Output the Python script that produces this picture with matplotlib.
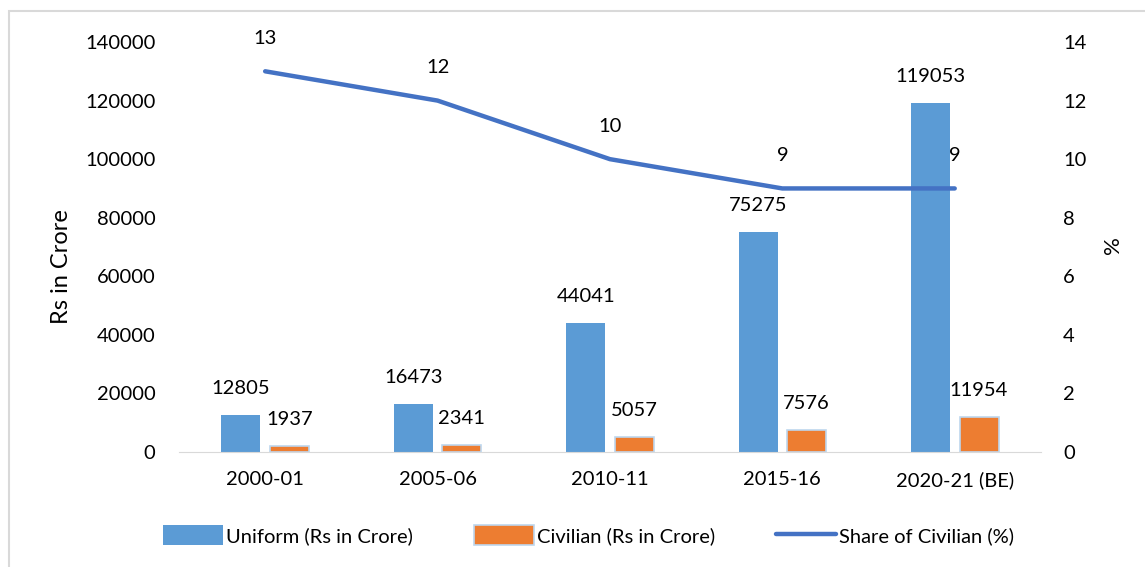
import matplotlib
matplotlib.use("Agg")
import matplotlib.pyplot as plt
import numpy as np
from matplotlib.patches import Rectangle

years = ["2000-01", "2005-06", "2010-11", "2015-16", "2020-21 (BE)"]
uniform = [12805, 16473, 44041, 75275, 119053]
civilian = [1937, 2341, 5057, 7576, 11954]
share = [13, 12, 10, 9, 9]

plt.rcParams["font.family"] = ["Lato", "DejaVu Sans"]
plt.rcParams["font.size"] = 14.5

fig = plt.figure(figsize=(11.45, 5.67), dpi=100)
ax = fig.add_axes([0.1563, 0.2028, 0.7528, 0.7231])
ax2 = ax.twinx()

x = np.arange(len(years))
w = 0.226
off = 0.141
b1 = ax.bar(x - off, uniform, w, color="#5B9BD5", label="Uniform (Rs in Crore)", zorder=2)
b2 = ax.bar(x + off, civilian, w, color="#ED7D31", edgecolor="#BDD7EE", lw=1.2,
            label="Civilian (Rs in Crore)", zorder=2)
for xi, v in zip(x - off, uniform):
    ax.annotate(f"{v}", (xi, v), xytext=(0, 19), textcoords="offset points",
                ha="center", va="center")
for xi, v in zip(x + off, civilian):
    ax.annotate(f"{v}", (xi, v), xytext=(0, 19), textcoords="offset points",
                ha="center", va="center")

ln, = ax2.plot(x, share, color="#4472C4", lw=3.2, solid_capstyle="round",
               label="Share of Civilian (%)", zorder=3)
for xi, v in zip(x, share):
    ax2.annotate(f"{v}", (xi, v), xytext=(0, 23.5), textcoords="offset points",
                 ha="center", va="center")

ax.set_xlim(-0.5, len(years) - 0.5)
ax.set_ylim(0, 140000)
ax.set_yticks(np.arange(0, 140001, 20000))
ax2.set_ylim(0, 14)
ax2.set_yticks(np.arange(0, 15, 2))
ax.set_xticks(x)
ax.set_xticklabels(years)
ax.tick_params(axis="both", length=0)
ax.tick_params(axis="y", pad=17)
ax.tick_params(axis="x", pad=14)
ax2.tick_params(axis="y", length=0, pad=16)
for a in (ax, ax2):
    for s in ("top", "left", "right"):
        a.spines[s].set_visible(False)
    a.spines["bottom"].set_color("#D9D9D9")
ax2.spines["bottom"].set_visible(False)

fig.text(0.054, 0.53, "Rs in Crore", rotation=90, ha="center", va="center", fontsize=17)
fig.text(0.972, 0.568, "%", rotation=90, ha="center", va="center", fontsize=16)

fig.legend(handles=[b1, b2, ln], loc="center", bbox_to_anchor=(0.514, 0.056), ncol=3,
           frameon=False, fontsize=14.5, handlelength=3.0, handleheight=1.1,
           columnspacing=3.0, handletextpad=0.15)

fig.patches.append(Rectangle((9 / 1145, -0.01), 1.02, 1 - 11 / 567 + 0.01,
                             transform=fig.transFigure, fill=False,
                             edgecolor="#D9D9D9", lw=1.5))

fig.savefig("out.png", dpi=100)
